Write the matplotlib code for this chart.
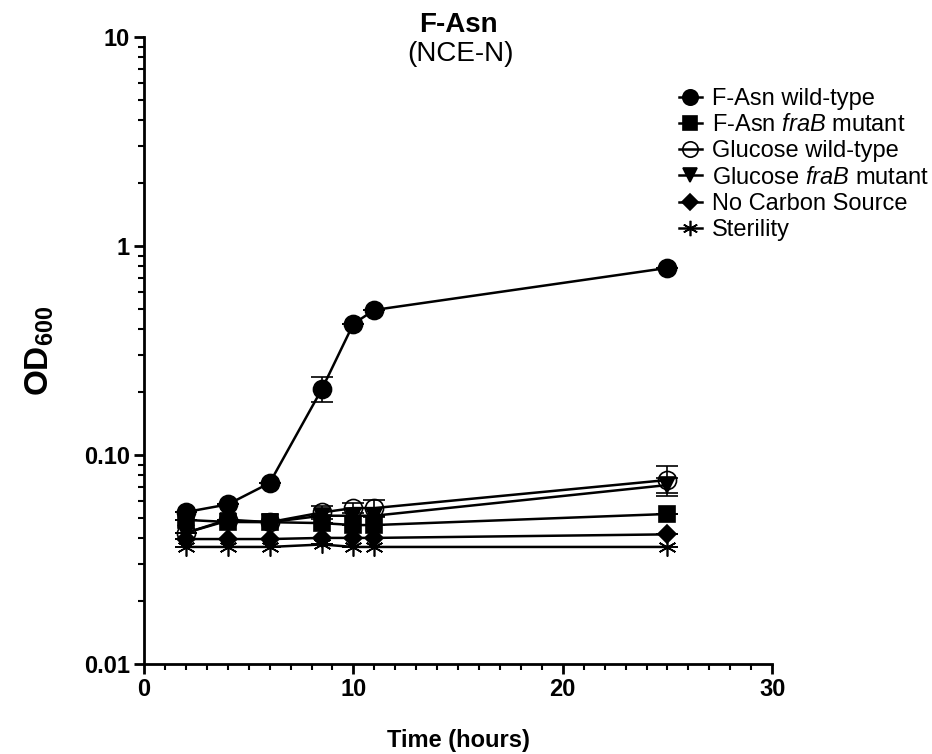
import matplotlib
matplotlib.use('Agg')
import matplotlib.pyplot as plt
from matplotlib.ticker import FixedLocator, MultipleLocator, LogLocator, NullFormatter

plt.rcParams['font.family'] = ['Liberation Sans', 'DejaVu Sans']
plt.rcParams['mathtext.fontset'] = 'custom'
plt.rcParams['mathtext.rm'] = 'Liberation Sans'
plt.rcParams['mathtext.it'] = 'Liberation Sans:italic'
plt.rcParams['mathtext.bf'] = 'Liberation Sans:bold'

# data
hours = [2, 4, 6, 8.5, 10, 11, 25]
fasn_wt = [0.0533, 0.058, 0.0734, 0.207, 0.424, 0.494, 0.785]
fasn_wt_err = [0, 0, 0, 0.028, 0, 0, 0]
fasn_mut = [0.0489, 0.0478, 0.0477, 0.0472, 0.0462, 0.0462, 0.0522]
fasn_mut_err = [0, 0, 0, 0, 0, 0, 0]
glc_wt = [0.0424, 0.049, 0.0477, 0.0531, 0.0557, 0.0557, 0.0759]
glc_wt_err = [0, 0, 0, 0.0037, 0.0032, 0.005, 0.0126]
glc_mut = [0.0424, 0.0485, 0.0477, 0.0512, 0.0512, 0.0512, 0.0718]
glc_mut_err = [0, 0, 0, 0, 0, 0, 0.006]
no_carbon = [0.0396, 0.0396, 0.0396, 0.0401, 0.0401, 0.0401, 0.0417]
sterility = [0.0363, 0.0363, 0.0363, 0.0373, 0.0363, 0.0363, 0.0363]

labels = ['F-Asn wild-type', r'F-Asn $\it{fraB}$ mutant', 'Glucose wild-type',
          r'Glucose $\it{fraB}$ mutant', 'No Carbon Source', 'Sterility']
series = [fasn_wt, fasn_mut, glc_wt, glc_mut, no_carbon, sterility]
errors = [fasn_wt_err, fasn_mut_err, glc_wt_err, glc_mut_err, [0] * 7, [0] * 7]
markers = ['o', 's', 'o', 'v', 'D', (6, 2, 0)]
sizes = [13, 12, 13, 12, 9, 13]
fills = ['k', 'k', 'none', 'k', 'k', 'k']

fig = plt.figure(figsize=(9.32, 7.54), dpi=100)
ax = fig.add_axes([0.1545, 0.1194, 0.674, 0.8316])

handles = []
for i, (y, e, m, s, f, lab) in enumerate(zip(series, errors, markers, sizes, fills, labels)):
    ax.errorbar(hours, y, yerr=e, fmt='none', ecolor='k', elinewidth=1.2,
                capsize=8, capthick=1.2, zorder=10 - i)
    h, = ax.plot(hours, y, color='k', lw=1.8, marker=m, markersize=s,
                 markerfacecolor=f, markeredgecolor='k', markeredgewidth=1.2,
                 label=lab, zorder=10 - i)
    handles.append(h)

ax.set_yscale('log')
ax.set_ylim(0.01, 10)
ax.set_xlim(0, 30)
ax.yaxis.set_major_locator(FixedLocator([0.01, 0.1, 1, 10]))
ax.set_yticklabels(['0.01', '0.10', '1', '10'])
ax.yaxis.set_minor_locator(LogLocator(base=10, subs=range(2, 10)))
ax.yaxis.set_minor_formatter(NullFormatter())
ax.xaxis.set_major_locator(MultipleLocator(10))
ax.xaxis.set_minor_locator(MultipleLocator(1))

for side in ['top', 'right']:
    ax.spines[side].set_visible(False)
for side in ['left', 'bottom']:
    ax.spines[side].set_linewidth(2)
ax.tick_params(which='major', length=7, width=2, labelsize=17, pad=3)
ax.tick_params(which='minor', length=4, width=1.5)
for lab in ax.get_xticklabels() + ax.get_yticklabels():
    lab.set_fontweight('bold')

ax.set_xlabel('Time (hours)', fontsize=17, fontweight='bold', labelpad=20)
ax.set_ylabel(r'$\mathbf{OD_{600}}$', fontsize=24, labelpad=20)

fig.text(0.492, 0.967, 'F-Asn', ha='center', va='center', fontsize=20, fontweight='bold')
fig.text(0.494, 0.928, '(NCE-N)', ha='center', va='center', fontsize=20)

ax.legend(handles=handles, loc='upper left', bbox_to_anchor=(0.836, 0.934),
          frameon=False, fontsize=17, handlelength=1.0, handletextpad=0.4,
          labelspacing=0.18, borderaxespad=0, markerscale=0.85)

fig.savefig('out.png', dpi=100)
